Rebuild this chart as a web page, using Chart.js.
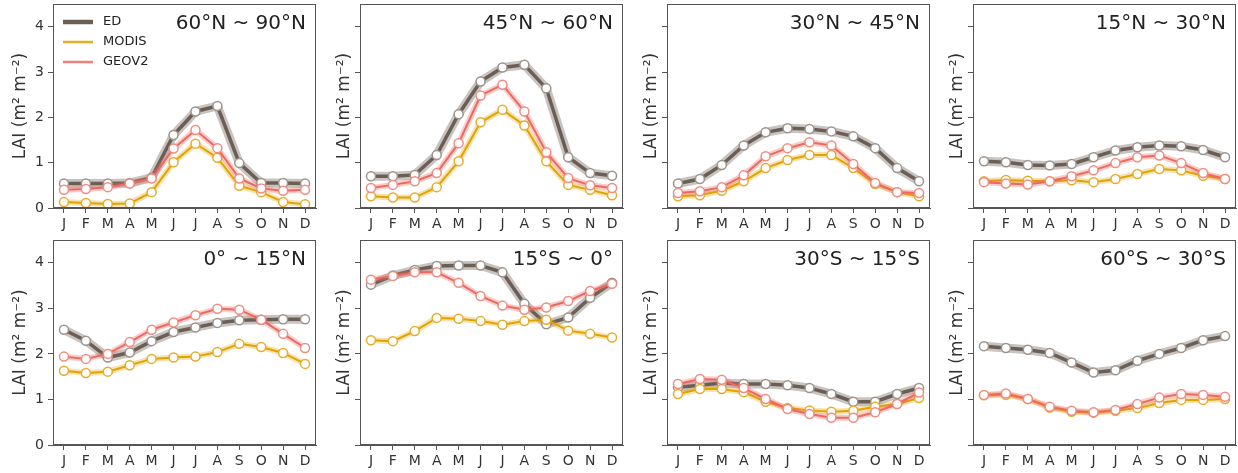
<!DOCTYPE html>
<html>
<head>
<meta charset="utf-8">
<script src="https://cdn.jsdelivr.net/npm/chart.js@4/dist/chart.umd.min.js"></script>
<style>
  html, body { margin: 0; padding: 0; background: #fff; }
  #wrap { position: relative; width: 1238px; height: 473px; overflow: hidden; }
  #wrap canvas { position: absolute; }
</style>
</head>
<body>
<div id="wrap"></div>
<script>
  const months = ['J', 'F', 'M', 'A', 'M', 'J', 'J', 'A', 'S', 'O', 'N', 'D'];
  const yTicks = [0, 1, 2, 3, 4];
  const regions = ['60°N ~ 90°N', '45°N ~ 60°N', '30°N ~ 45°N', '15°N ~ 30°N',
                   '0° ~ 15°N', '15°S ~ 0°', '30°S ~ 15°S', '60°S ~ 30°S'];
  const seriesNames = ['ED', 'MODIS', 'GEOV2'];

  // monthly LAI per latitude band (same order as regions)
  const edLAI = [
    [0.54, 0.54, 0.54, 0.55, 0.67, 1.61, 2.13, 2.25, 0.99, 0.55, 0.55, 0.54],
    [0.70, 0.70, 0.73, 1.17, 2.07, 2.79, 3.10, 3.16, 2.64, 1.12, 0.77, 0.71],
    [0.54, 0.64, 0.95, 1.38, 1.67, 1.76, 1.74, 1.69, 1.58, 1.32, 0.88, 0.59],
    [1.03, 1.01, 0.95, 0.94, 0.97, 1.12, 1.27, 1.34, 1.38, 1.36, 1.28, 1.12],
    [2.53, 2.29, 1.92, 2.03, 2.28, 2.48, 2.58, 2.68, 2.74, 2.75, 2.76, 2.76],
    [3.52, 3.72, 3.84, 3.93, 3.94, 3.94, 3.79, 3.10, 2.65, 2.80, 3.23, 3.56],
    [1.27, 1.31, 1.36, 1.34, 1.34, 1.31, 1.25, 1.12, 0.95, 0.95, 1.12, 1.25],
    [2.17, 2.13, 2.09, 2.02, 1.81, 1.59, 1.64, 1.85, 2.00, 2.13, 2.30, 2.39],
  ];
  const modisLAI = [
    [0.13, 0.11, 0.09, 0.10, 0.35, 1.01, 1.42, 1.11, 0.49, 0.35, 0.13, 0.08],
    [0.26, 0.23, 0.23, 0.46, 1.03, 1.89, 2.17, 1.82, 1.03, 0.51, 0.40, 0.28],
    [0.26, 0.28, 0.38, 0.59, 0.88, 1.06, 1.17, 1.17, 0.88, 0.53, 0.35, 0.26],
    [0.59, 0.62, 0.60, 0.59, 0.61, 0.57, 0.64, 0.75, 0.86, 0.83, 0.71, 0.64],
    [1.63, 1.58, 1.61, 1.75, 1.89, 1.92, 1.94, 2.04, 2.22, 2.15, 2.02, 1.78],
    [2.30, 2.28, 2.50, 2.79, 2.77, 2.72, 2.64, 2.72, 2.75, 2.51, 2.44, 2.36],
    [1.12, 1.23, 1.23, 1.16, 0.95, 0.81, 0.76, 0.73, 0.75, 0.84, 0.90, 1.03],
    [1.09, 1.10, 1.01, 0.82, 0.73, 0.71, 0.75, 0.81, 0.92, 0.99, 0.99, 1.01],
  ];
  const geov2LAI = [
    [0.40, 0.42, 0.46, 0.54, 0.65, 1.31, 1.72, 1.32, 0.65, 0.43, 0.38, 0.40],
    [0.44, 0.51, 0.59, 0.77, 1.43, 2.48, 2.72, 2.13, 1.23, 0.66, 0.50, 0.44],
    [0.33, 0.37, 0.46, 0.72, 1.14, 1.32, 1.45, 1.38, 0.97, 0.55, 0.35, 0.33],
    [0.57, 0.54, 0.52, 0.59, 0.70, 0.83, 0.99, 1.12, 1.16, 0.99, 0.77, 0.64],
    [1.94, 1.89, 2.00, 2.26, 2.53, 2.69, 2.85, 2.99, 2.97, 2.75, 2.44, 2.13],
    [3.63, 3.71, 3.79, 3.79, 3.56, 3.27, 3.06, 2.97, 3.02, 3.16, 3.38, 3.54],
    [1.34, 1.45, 1.43, 1.25, 1.01, 0.79, 0.68, 0.60, 0.60, 0.72, 0.90, 1.15],
    [1.10, 1.13, 1.01, 0.84, 0.75, 0.72, 0.77, 0.90, 1.04, 1.12, 1.10, 1.06],
  ];

  const styles = {
    ED:    { line: '#6b5f55', band: 'rgba(110, 98, 88, 0.38)', edge: '#9d948c', lw: 3.5, bw: 9 },
    MODIS: { line: '#e2a200', band: 'rgba(228, 165, 10, 0.32)', edge: '#e6ad2a', lw: 2, bw: 6 },
    GEOV2: { line: '#ea6a60', band: 'rgba(238, 110, 100, 0.35)', edge: '#f08c83', lw: 2, bw: 6 },
  };

  const colLeft = [53, 360, 667, 973];
  const rowTop = [4, 240];
  const plotW = 263;
  const plotH = [204, 205];
  const xAxisH = 28;
  const FONT = '"DejaVu Sans", sans-serif';

  const panelDecor = {
    id: 'panelDecor',
    afterDraw(chart, args, opts) {
      const a = chart.chartArea;
      const ctx = chart.ctx;
      ctx.save();
      ctx.strokeStyle = '#555';
      ctx.lineWidth = 1;
      ctx.strokeRect(Math.round(a.left) + 0.5, Math.round(a.top) + 0.5,
        Math.round(a.right - a.left) - 1, Math.round(a.bottom - a.top) - 1);
      ctx.fillStyle = '#222';
      ctx.font = '20px ' + FONT;
      ctx.textAlign = 'right';
      ctx.textBaseline = 'middle';
      ctx.fillText(opts.title, a.right - 10, a.top + 20);
      if (opts.legend) {
        ctx.font = '13px ' + FONT;
        ctx.textAlign = 'left';
        seriesNames.forEach(function (name, i) {
          const s = styles[name];
          const y = a.top + 18 + i * 20;
          ctx.strokeStyle = s.line;
          ctx.globalAlpha = name === 'ED' ? 1 : 0.85;
          ctx.lineWidth = name === 'ED' ? 4.5 : 2.5;
          ctx.beginPath();
          ctx.moveTo(a.left + 10, y);
          ctx.lineTo(a.left + 40, y);
          ctx.stroke();
          ctx.globalAlpha = 1;
          ctx.fillStyle = '#222';
          ctx.fillText(name, a.left + 50, y);
        });
      }
      ctx.restore();
    },
  };

  function seriesSets(name, values, baseOrder) {
    const s = styles[name];
    return [
      {
        label: name,
        data: values,
        borderColor: s.line,
        borderWidth: s.lw,
        pointRadius: 4.5,
        pointBorderWidth: 1.5,
        pointBackgroundColor: '#fff',
        pointBorderColor: s.edge,
        tension: 0,
        order: baseOrder,
      },
      {
        label: name + ' band',
        data: values,
        borderColor: s.band,
        borderWidth: s.bw,
        pointRadius: 0,
        borderCapStyle: 'round',
        borderJoinStyle: 'round',
        tension: 0,
        order: baseOrder + 1,
      },
    ];
  }

  const wrap = document.getElementById('wrap');

  regions.forEach(function (title, idx) {
    const row = Math.floor(idx / 4);
    const col = idx % 4;
    const yW = col === 0 ? 43 : 26;
    const canvas = document.createElement('canvas');
    const w = yW + plotW + 1;
    const h = plotH[row] + 1 + xAxisH;
    canvas.width = w;
    canvas.height = h;
    canvas.style.width = w + 'px';
    canvas.style.height = h + 'px';
    canvas.style.left = (colLeft[col] - yW) + 'px';
    canvas.style.top = (rowTop[row] - 1) + 'px';
    wrap.appendChild(canvas);

    const datasets = []
      .concat(seriesSets('GEOV2', geov2LAI[idx], 0))
      .concat(seriesSets('MODIS', modisLAI[idx], 2))
      .concat(seriesSets('ED', edLAI[idx], 4));

    new Chart(canvas.getContext('2d'), {
      type: 'line',
      data: { labels: months, datasets: datasets },
      options: {
        responsive: false,
        animation: false,
        layout: { autoPadding: false, padding: { top: 1, right: 1, left: 0, bottom: 0 } },
        plugins: {
          legend: { display: false },
          tooltip: { enabled: false },
          panelDecor: { title: title, legend: idx === 0 },
        },
        scales: {
          x: {
            type: 'category',
            offset: true,
            afterFit: function (scale) {
              scale.height = xAxisH;
              scale.paddingLeft = 0;
              scale.paddingRight = 0;
            },
            grid: { drawOnChartArea: false, drawTicks: true, tickLength: 5, color: '#555' },
            border: { display: true, color: '#555', width: 1 },
            ticks: {
              autoSkip: false, maxRotation: 0, padding: 3,
              color: '#333', font: { family: FONT, size: 14 },
            },
          },
          y: {
            min: 0,
            max: 4.5,
            afterBuildTicks: function (scale) {
              scale.ticks = yTicks.map(function (v) { return { value: v }; });
            },
            afterFit: function (scale) {
              scale.width = yW;
              scale.paddingTop = 0;
              scale.paddingBottom = 0;
            },
            grid: { drawOnChartArea: false, drawTicks: true, tickLength: 5, color: '#555' },
            border: { display: true, color: '#555', width: 1 },
            ticks: {
              display: col === 0, padding: 4,
              color: '#333', font: { family: FONT, size: 14 },
            },
            title: {
              display: true,
              text: 'LAI (m² m⁻²)',
              color: '#333',
              padding: 0,
              font: { family: FONT, size: 17 },
            },
          },
        },
      },
      plugins: [panelDecor],
    });
  });
</script>
</body>
</html>
